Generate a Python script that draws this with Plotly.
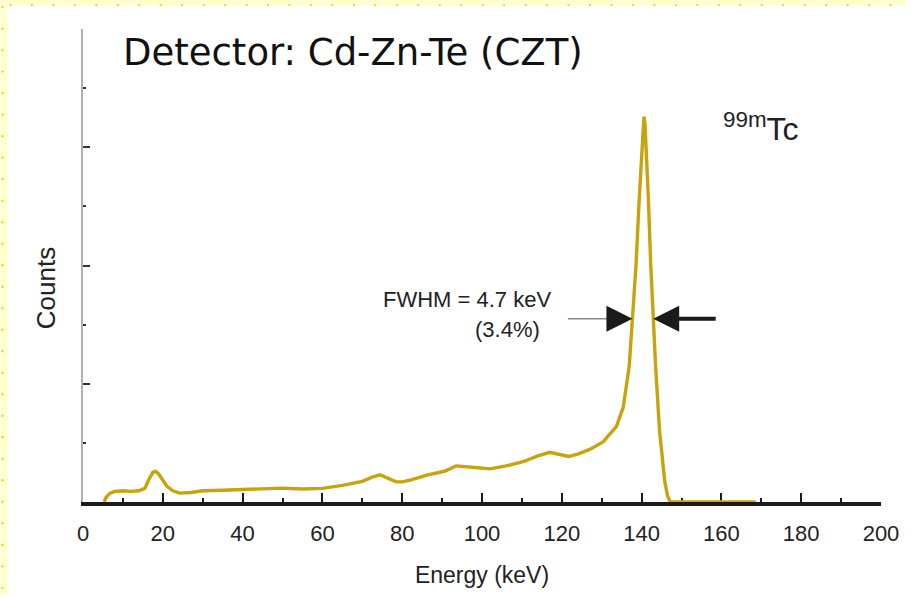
import numpy as np
import plotly.graph_objects as go

# Tc-99m pulse-height spectrum measured with a CZT detector
energy_kev = [5.3, 5.8, 6.8, 8, 10, 12, 14, 15.5, 16.5, 17.5, 18.2, 19, 20, 21, 22.5,
              24.2, 27, 30, 35, 40, 45, 50, 55, 60, 65, 70, 72.5, 74.4, 76.5, 78.5,
              80, 82.2, 86.4, 90.6, 93.5, 96, 99, 102, 106, 110.5, 114, 117, 119.5,
              121.7, 124, 127, 130.4, 132, 133.7, 135.4, 136.6, 136.9, 137.7, 138.6,
              139.4, 140.1, 140.35, 140.6, 140.85, 141.2, 141.7, 142.3, 142.9, 143.5,
              144.5, 145.2, 145.8, 146.5, 147.2, 168.6]
counts = [0.0, 0.08, 0.15, 0.18, 0.19, 0.18, 0.19, 0.23, 0.38, 0.50, 0.52, 0.47, 0.37,
          0.27, 0.19, 0.15, 0.16, 0.19, 0.20, 0.21, 0.23, 0.235, 0.22, 0.23, 0.28, 0.35,
          0.42, 0.46, 0.40, 0.34, 0.34, 0.375, 0.46, 0.52, 0.61, 0.60, 0.58, 0.56, 0.61,
          0.685, 0.78, 0.84, 0.80, 0.77, 0.81, 0.89, 1.02, 1.15, 1.28, 1.6, 2.09, 2.3,
          3.1, 4.0, 5.12, 5.96, 6.4, 6.52, 6.4, 5.96, 5.12, 4.0, 3.1, 2.31, 1.2, 0.7,
          0.35, 0.1, 0.0, 0.0]

x_ticks = [0, 20, 40, 60, 80, 100, 120, 140, 160, 180, 200]
fwhm_label = "FWHM = 4.7 keV"
fwhm_pct = "(3.4%)"
arrow_level = 3.1  # counts level at which the FWHM arrows point

W, H = 911, 597
ML, MR, MT, MB = 83, 25, 29, 93
plot_w = W - ML - MR
plot_h = H - MT - MB

CURVE = "#c9a30c"
TEXT = "#222222"
SANS = "Liberation Sans Narrow, Liberation Sans, Arial"

# half-height crossing points of the photopeak, from the spectrum itself
e = np.array(energy_kev)
c = np.array(counts)
ipk = int(np.argmax(c))
left_tip = float(np.interp(arrow_level, c[:ipk + 1], e[:ipk + 1]))
right_tip = float(np.interp(arrow_level, c[ipk:][::-1], e[ipk:][::-1]))

fig = go.Figure()
fig.add_trace(go.Scatter(x=energy_kev, y=counts, mode="lines",
                         line=dict(color=CURVE, width=3.4), hoverinfo="skip",
                         cliponaxis=False))


# slide frame: pale yellow strips along the top and left edges, with dots
def px_x(p):
    return (p - ML) / plot_w


def px_y(p):
    return 1 - (p - MT) / plot_h


shapes = [
    dict(type="rect", xref="paper", yref="paper", x0=px_x(0), x1=px_x(W),
         y0=px_y(0), y1=px_y(5), fillcolor="#ffffcc", line_width=0, layer="below"),
    dict(type="rect", xref="paper", yref="paper", x0=px_x(0), x1=px_x(7),
         y0=px_y(0), y1=px_y(H), fillcolor="#ffffcc", line_width=0, layer="below"),
]
for k in range(42):
    cx = 10 + k * 21.6
    shapes.append(dict(type="circle", xref="paper", yref="paper",
                       x0=px_x(cx - 1.2), x1=px_x(cx + 1.2),
                       y0=px_y(3.8), y1=px_y(6.2),
                       fillcolor="#f2cf3c", line_width=0, layer="below"))
for k in range(28):
    cy = 7 + k * 21.6
    shapes.append(dict(type="circle", xref="paper", yref="paper",
                       x0=px_x(0.8), x1=px_x(3.2),
                       y0=px_y(cy - 1.2), y1=px_y(cy + 1.2),
                       fillcolor="#f2cf3c", line_width=0, layer="below"))

annotations = [
    dict(text="Detector: Cd-Zn-Te (CZT)", x=9.5, y=7.6, xref="x", yref="y",
         xanchor="left", yanchor="middle", showarrow=False,
         font=dict(family="Comic Sans MS, DejaVu Sans", size=37, color="#111111")),
    dict(text="<sup>99m</sup>Tc", x=159.9, y=6.35, xref="x", yref="y",
         xanchor="left", yanchor="middle", showarrow=False,
         font=dict(family="Liberation Sans", size=32, color=TEXT)),
    dict(text=fwhm_label, x=117.8, y=3.42, xref="x", yref="y",
         xanchor="right", yanchor="middle", showarrow=False,
         font=dict(family=SANS, size=22, color=TEXT)),
    dict(text=fwhm_pct, x=115.1, y=2.91, xref="x", yref="y",
         xanchor="right", yanchor="middle", showarrow=False,
         font=dict(family=SANS, size=22, color=TEXT)),
    dict(text="Counts", x=px_x(46), y=3.62, xref="paper", yref="y",
         xanchor="center", yanchor="middle", textangle=-90, showarrow=False,
         font=dict(family=SANS, size=26, color=TEXT)),
    # left arrow: thin grey shaft, black head
    dict(text="", x=left_tip, y=arrow_level, xref="x", yref="y",
         ax=-66, ay=0, showarrow=True,
         arrowhead=0, arrowwidth=1.6, arrowcolor="#8a8a8a", standoff=14),
    dict(text="", x=left_tip, y=arrow_level, xref="x", yref="y",
         ax=-26, ay=0, showarrow=True, arrowhead=2, arrowsize=2.6,
         arrowwidth=2, arrowcolor="#1a1a1a"),
    # right arrow: black shaft and head
    dict(text="", x=right_tip, y=arrow_level, xref="x", yref="y",
         ax=64, ay=0, showarrow=True, arrowhead=2, arrowsize=1.3,
         arrowwidth=4, arrowcolor="#1a1a1a"),
]

fig.update_layout(
    width=W, height=H,
    margin=dict(l=ML, r=MR, t=MT, b=MB),
    paper_bgcolor="white", plot_bgcolor="white",
    showlegend=False,
    shapes=shapes, annotations=annotations,
    xaxis=dict(range=[0, 200], tickvals=x_ticks, ticks="inside", ticklen=9,
               tickwidth=2, tickcolor="#1a1a1a", showline=True, linewidth=4,
               linecolor="#1a1a1a", showgrid=False, zeroline=False,
               layer="below traces",
               minor=dict(ticks="inside", dtick=10, ticklen=4, tickwidth=2,
                          tickcolor="#1a1a1a"),
               tickfont=dict(family=SANS, size=22, color=TEXT),
               ticklabelstandoff=9,
               title=dict(text="Energy (keV)", standoff=22,
                          font=dict(family=SANS, size=23, color=TEXT))),
    yaxis=dict(range=[0, 8], dtick=2, ticks="inside", ticklen=7, tickwidth=2,
               tickcolor="#333333", showticklabels=False, showline=True,
               linewidth=2, linecolor="#b0b0b0", showgrid=False, zeroline=False,
               layer="below traces",
               minor=dict(ticks="inside", dtick=1, ticklen=3, tickwidth=2,
                          tickcolor="#333333")),
)

fig.write_html("out.html")
